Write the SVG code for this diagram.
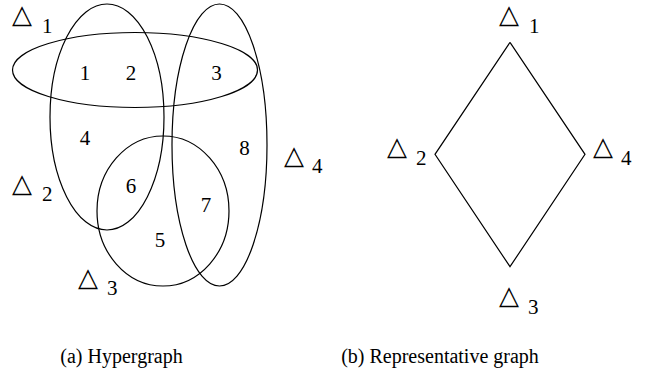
<svg xmlns="http://www.w3.org/2000/svg" width="655" height="387" viewBox="0 0 655 387">
<style>
.e{fill:none;stroke:#000;stroke-width:1.2}
.t{font-family:"Liberation Serif","Times New Roman",serif;font-size:21px;fill:#000}
.cap{font-family:"Liberation Serif","Times New Roman",serif;font-size:20px;fill:#000;text-anchor:middle}
.c{text-anchor:middle}
.tri{font-family:"DejaVu Sans",sans-serif;font-size:26px;fill:#000}
</style>
<rect width="655" height="387" fill="#fff"/>
<g id="hypergraph">
<g id="edge-d1"><ellipse class="e" cx="135" cy="70" rx="122.5" ry="37.5"/>
<text class="tri" x="12" y="23">△</text><text class="t" x="42" y="32.5">1</text></g>
<g id="edge-d2"><ellipse class="e" cx="107" cy="117" rx="57" ry="113"/>
<text class="tri" x="12" y="192">△</text><text class="t" x="42" y="201">2</text></g>
<g id="edge-d3"><ellipse class="e" cx="163" cy="211" rx="66" ry="75"/>
<text class="tri" x="78" y="286">△</text><text class="t" x="107" y="294.5">3</text></g>
<g id="edge-d4"><ellipse class="e" cx="219.5" cy="145" rx="47.5" ry="141"/>
<text class="tri" x="284" y="164">△</text><text class="t" x="312" y="173">4</text></g>
<g id="vertices">
<text class="t c" x="85" y="80">1</text>
<text class="t c" x="131" y="80">2</text>
<text class="t c" x="216.5" y="80">3</text>
<text class="t c" x="85" y="145">4</text>
<text class="t c" x="160" y="247">5</text>
<text class="t c" x="131" y="192.5">6</text>
<text class="t c" x="206" y="211.5">7</text>
<text class="t c" x="244.5" y="155">8</text>
</g>
</g>
<g id="rep-graph">
<g id="connectors">
<polyline class="e" points="510,42.3 435,154.3 510,266.7 585,154.3 510,42.3"/>
</g>
<g id="node-1"><text class="tri" x="499" y="23">△</text><text class="t" x="529" y="33">1</text></g>
<g id="node-2"><text class="tri" x="387" y="155">△</text><text class="t" x="416" y="165">2</text></g>
<g id="node-4"><text class="tri" x="593" y="155">△</text><text class="t" x="621" y="165">4</text></g>
<g id="node-3"><text class="tri" x="499" y="304">△</text><text class="t" x="528" y="314">3</text></g>
</g>
<text class="cap" x="121.5" y="363">(a) Hypergraph</text>
<text class="cap" x="440" y="363">(b) Representative graph</text>
</svg>
